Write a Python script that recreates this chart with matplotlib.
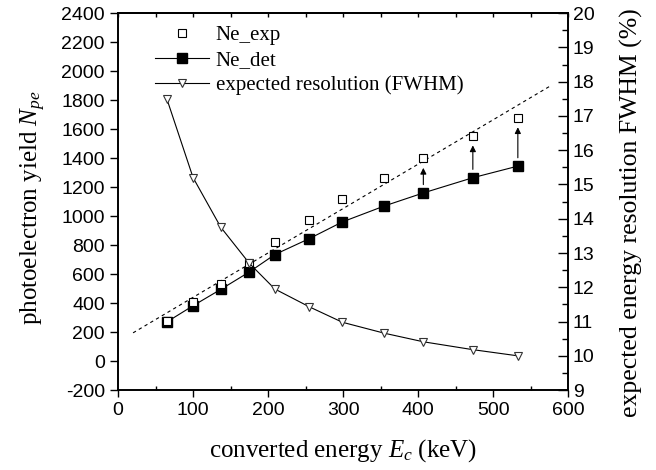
import numpy as np
import matplotlib
matplotlib.use("Agg")
import matplotlib.pyplot as plt
from matplotlib.lines import Line2D
from matplotlib.ticker import MultipleLocator

# =============================================================================
# DATA
# =============================================================================
energy = [65, 100, 137, 175, 209, 255, 299, 355, 407, 473, 533]
ne_exp = [280, 405, 535, 680, 820, 970, 1120, 1265, 1400, 1555, 1680]
ne_det = [270, 382, 495, 615, 735, 845, 960, 1070, 1160, 1265, 1345]
resolution = [17.5, 15.2, 13.75, 12.7, 11.95, 11.43, 10.98, 10.66, 10.41, 10.18, 10.0]

fit_x = [20, 577]
fit_y = [195, 1900]

arrow_idx = [8, 9, 10]

SERIF = "Liberation Serif"
SANS = "Liberation Sans"

plt.rcParams["mathtext.fontset"] = "custom"
plt.rcParams["mathtext.it"] = SERIF + ":italic"
plt.rcParams["mathtext.rm"] = SERIF
plt.rcParams["axes.unicode_minus"] = False

# =============================================================================
# PLOT
# =============================================================================
fig = plt.figure(figsize=(6.56, 4.70), dpi=100)
ax = fig.add_axes([0.180, 0.170, 0.866 - 0.180, 0.972 - 0.170])
ax2 = ax.twinx()

ax.plot(fit_x, fit_y, color="k", lw=0.8, ls=(0, (3, 3)))
ax.plot(energy, ne_det, color="k", lw=0.8, marker="s", ms=7, mfc="k", mec="k")
ax.plot(energy, ne_exp, ls="none", marker="s", ms=6, mfc="white", mec="k", mew=0.8)
ax2.plot(energy, resolution, color="k", lw=0.8, marker="v", ms=5.5,
         mfc="white", mec="#333333", mew=0.8)

for i in arrow_idx:
    ax.annotate("", xy=(energy[i], ne_exp[i]), xytext=(energy[i], ne_det[i]),
                arrowprops=dict(arrowstyle="-|>", color="k", lw=0.8,
                                mutation_scale=9, shrinkA=6, shrinkB=7))

ax.set_xlim(0, 600)
ax.set_ylim(-200, 2400)
ax2.set_ylim(9, 20)
ax.xaxis.set_major_locator(MultipleLocator(100))
ax.xaxis.set_minor_locator(MultipleLocator(50))
ax.yaxis.set_major_locator(MultipleLocator(200))
ax2.yaxis.set_major_locator(MultipleLocator(1))
ax2.yaxis.set_minor_locator(MultipleLocator(0.5))

ax.tick_params(axis="y", which="major", direction="out", length=6, width=1, labelsize=14)
ax.tick_params(axis="x", which="major", direction="out", length=5, width=1, labelsize=14, top=False)
ax.tick_params(axis="x", which="minor", direction="in", length=3, width=1, top=False)
ax2.tick_params(axis="y", which="major", direction="in", length=7, width=1, labelsize=14)
ax2.tick_params(axis="y", which="minor", direction="in", length=4, width=1)
for lab in ax.get_xticklabels() + ax.get_yticklabels() + ax2.get_yticklabels():
    lab.set_fontfamily(SANS)

top = ax.secondary_xaxis("top")
top.xaxis.set_major_locator(MultipleLocator(50))
top.tick_params(direction="in", length=3, width=1, labeltop=False)

for a in (ax, ax2):
    for s in a.spines.values():
        s.set_linewidth(1.2)
top.spines["top"].set_linewidth(1.2)

ax.set_xlabel("converted energy $\\mathit{E}_{\\mathit{c}}$ (keV)", family=SERIF, fontsize=18)
ax.set_ylabel("photoelectron yield $\\mathit{N}_{\\mathit{pe}}$", family=SERIF, fontsize=18)
ax2.set_ylabel("expected energy resolution FWHM (%)", family=SERIF, fontsize=18.5)
ax.xaxis.set_label_coords(0.5, -0.125)
ax.yaxis.set_label_coords(-0.155, 0.485)
ax2.yaxis.set_label_coords(1.115, 0.47)

handles = [
    Line2D([], [], ls="none", marker="s", ms=6, mfc="white", mec="k", mew=0.8),
    Line2D([], [], color="k", lw=0.8, marker="s", ms=7, mfc="k", mec="k"),
    Line2D([], [], color="k", lw=0.8, marker="v", ms=5.5, mfc="white", mec="#333333", mew=0.8),
]
labels = ["Ne_exp", "Ne_det", "expected resolution (FWHM)"]
ax.legend(handles, labels, loc="upper left", bbox_to_anchor=(0.055, 1.0), frameon=False,
          prop={"family": SERIF, "size": 15}, handlelength=2.6, handletextpad=0.3,
          labelspacing=0.25, borderaxespad=0.2)

fig.savefig("out.png", dpi=100)
